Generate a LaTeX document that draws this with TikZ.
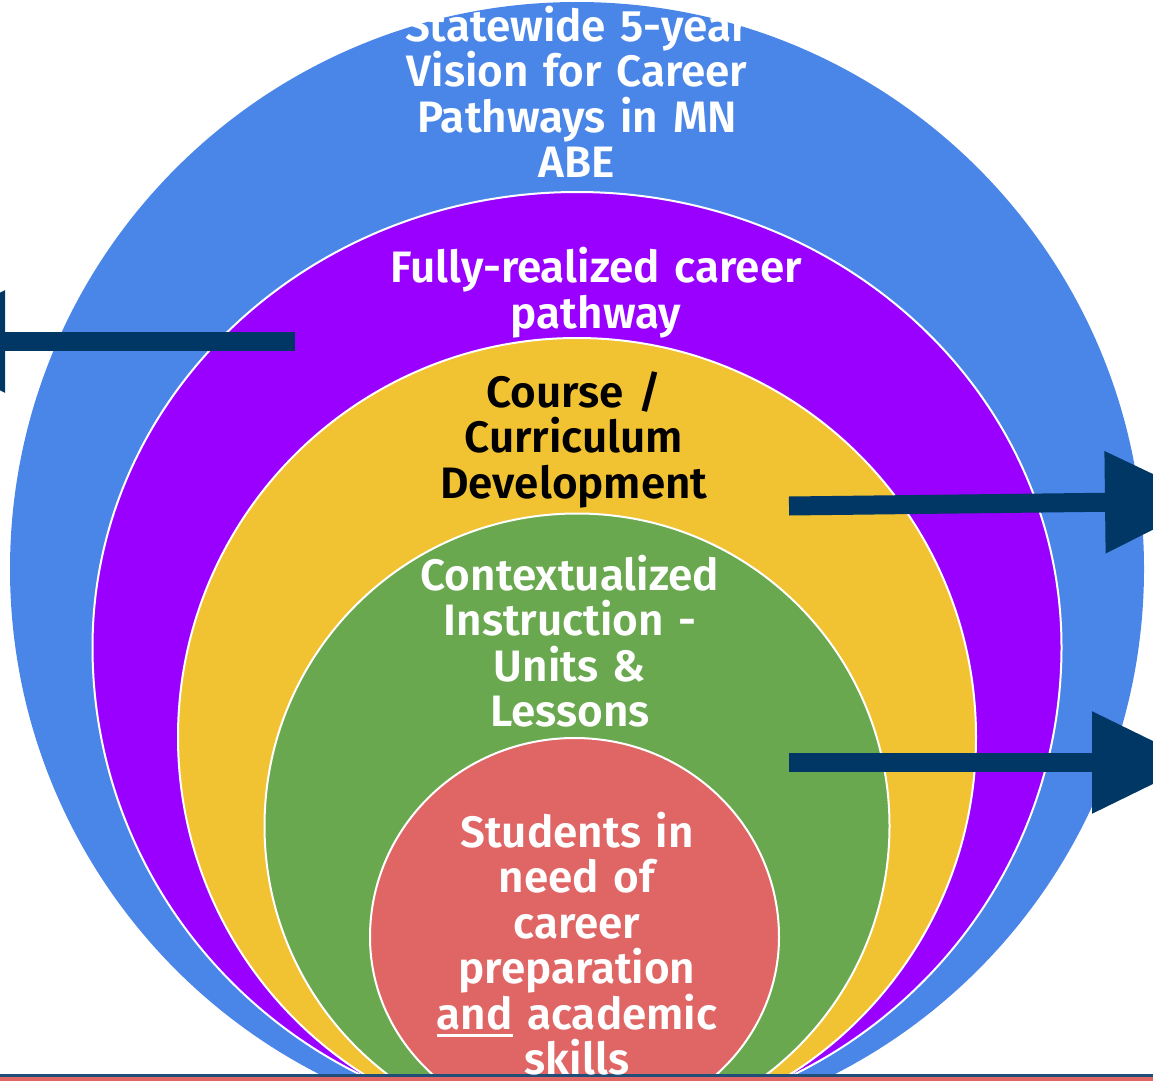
\documentclass[tikz,border=0pt]{standalone}
\usepackage{fontspec}
\setmainfont{Fira Sans}[BoldFont={Fira Sans SemiBold}]
\usetikzlibrary{arrows.meta}
\definecolor{cblue}{HTML}{4A86E8}
\definecolor{cpurple}{HTML}{9900FF}
\definecolor{cyellow}{HTML}{F1C232}
\definecolor{cgreen}{HTML}{6AA84F}
\definecolor{cred}{HTML}{E06666}
\definecolor{cnavy}{HTML}{003764}
\definecolor{cline}{HTML}{1F4E79}
\newsavebox\ulwbox
\newcommand\ulw[1]{\mbox{\sbox\ulwbox{#1}\rlap{\rule[-8.3pt]{\wd\ulwbox}{3pt}}\usebox\ulwbox}}
\tikzset{
  ring/.style={draw=white, line width=2pt},
  label/.style={anchor=base, align=center, text width=500pt, inner sep=0pt,
    font=\bfseries\fontsize{44}{45.5}\selectfont},
  bigarrow/.style={cnavy, line width=19pt, line cap=butt,
    -{Triangle[width=97pt,length=106pt]}}
}
\begin{document}
\begin{tikzpicture}[x=1pt,y=-1pt]
\useasboundingbox (0,0) rectangle (1153,1081);
\clip (0,0) rectangle (1153,1081);
\begin{scope}
  \clip (0,0) rectangle (1153,1075);
  \fill[cblue] (577,569) circle[radius=567];
  \filldraw[cpurple, ring] (92.5,647)
    arc[start angle=180, end angle=360, x radius=484.5, y radius=455]
    arc[start angle=0, end angle=180, x radius=484.5, y radius=478] -- cycle;
  \filldraw[cyellow, ring] (577,737) circle[radius=399];
  \filldraw[cgreen, ring] (577,826) circle[radius=312.5];
  \filldraw[cred, ring] (370,937)
    arc[start angle=180, end angle=360, x radius=204.5, y radius=199]
    arc[start angle=0, end angle=180, x radius=204.5, y radius=191] -- cycle;
\end{scope}
\fill[cline] (0,1074.3) rectangle (1153,1076.6);
\fill[cred] (0,1077) rectangle (1153,1081);

\node[label, text=white] (vision) at (577,41.5)
  {Statewide 5-year\\Vision for Career\\Pathways in MN\\ABE};
\node[label, text=white] (pathway) at (596,282.5)
  {Fully-realized career\\pathway};
\node[label, text=black] (course) at (574,407)
  {Course /\\Curriculum\\Development};
\node[label, text=white] (context) at (570,590)
  {Contextualized\\Instruction -\\Units \&\\Lessons};
\node[label, text=white] (students) at (577,847)
  {Students in\\need of\\career\\preparation\\\ulw{and} academic\\skills};

\coordinate (l1) at (295,341.5);
\coordinate (l2) at (-101,341.5);
\coordinate (r1a) at (789,506);
\coordinate (r1b) at (1211,501);
\coordinate (r2a) at (789,762.5);
\coordinate (r2b) at (1198,762.5);
\draw[bigarrow] (l1) -- (l2);
\draw[bigarrow] (r1a) -- (r1b);
\draw[bigarrow] (r2a) -- (r2b);
\end{tikzpicture}
\end{document}
